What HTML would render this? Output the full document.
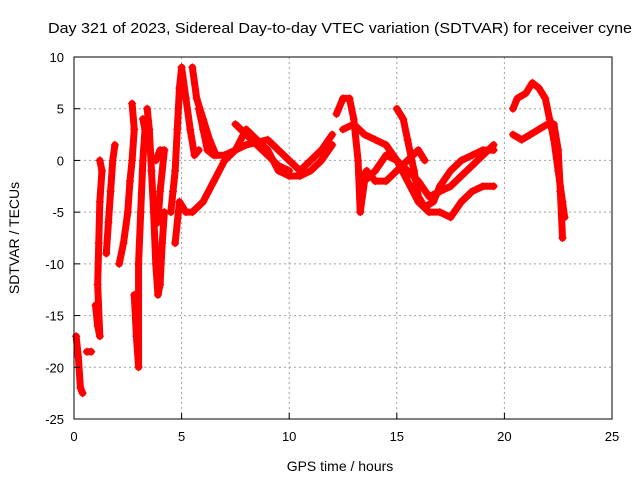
<!DOCTYPE html>
<html><head><meta charset="utf-8"><style>
body{margin:0;background:#fff;}
svg text{font-family:"Liberation Sans",sans-serif;fill:#000;}
</style></head><body>
<svg id="chart" width="640" height="480" xmlns="http://www.w3.org/2000/svg">
<rect width="640" height="480" fill="#fff"/>
<g id="grid"></g><g id="series"></g><g id="axes"></g>
</svg>
<script>
const xTicks=[0,5,10,15,20,25];
const yTicks=[10,5,0,-5,-10,-15,-20,-25];
const trackTimes=[
[0.1,0.2,0.3,0.4],
[0.6,0.8],
[1.0,1.1,1.2,1.1,1.15,1.2,1.3,1.2],
[1.5,1.6,1.7,1.8,1.9],
[2.1,2.3,2.5,2.6,2.7,2.8,2.7],
[2.8,2.9,3.0,3.0,3.1,3.2,3.3,3.2],
[3.4,3.5,3.6,3.7,3.8,3.9,4.0,4.1,4.2],
[3.8,4.0,4.2,4.0,3.9],
[4.5,4.6,4.7,4.8,4.9,5.0,5.2,5.4,5.6,5.8],
[4.7,4.9,5.2,5.5,6.0,6.5,7.0,7.5,8,9,10,10.5,11,11.5,12],
[5.5,5.7,6,6.3,6.6,7,7.5,8,8.5,9,9.5,10,10.5,11,11.5,12],
[7.5,8,8.5,9,9.5,10],
[5.8,6,6.2,6.5],
[12.2,12.5,12.8,13,13.2,13.3,13.5,14,14.5,15,15.5,16,16.5,17,17.5,18,18.5,19,19.5],
[12.5,13,13.5,14,14.5,15,15.5,16,16.5,17,17.5,18,18.5,19,19.5],
[15,15.3,15.5,15.8,16,16.3,16.7,17,17.5,18,18.5,19,19.5],
[13.3,13.6,14,14.5,15,15.5,16,16.3],
[20.4,20.6,21,21.3,21.6,21.9,22.1,22.3,22.5,22.7,22.8],
[20.4,20.8,21.2,21.6,22,22.3,22.5,22.6,22.7]
];
const trackValues=[
[-17,-19,-22,-22.5],
[-18.5,-18.5],
[-14,-16,-17,-12,-8,-4,-1,0],
[-9,-6,-3,0,1.5],
[-10,-8,-5,-2,0,3,5.5],
[-13,-17,-20,-10,-5,0,3,4],
[5,3,-1,-5,-10,-13,-12,-8,-5],
[0,1,1,-3,-6],
[-5,-3,-1,3,7,9,6,3,0.5,1],
[-8,-4,-5,-5,-4,-2,0,1,1.5,2,0,-1,0,1,2.5],
[9,6,4,2,0.5,0.5,1,3,2,1,-1,-1.5,-1.5,-1,0,1.5],
[3.5,2.5,1.5,0.5,-0.5,-1],
[5,3,1,0.5],
[4.5,6,6,4,0,-5,-2,-1,0.5,0,-2,-4,-5,-5,-5.5,-4,-3,-2.5,-2.5],
[3,3.5,2.5,2,1.5,0,-1,-2,-3.5,-3,-2.5,-1.5,-0.5,0.5,1.5],
[5,4,2,-1,-3.5,-4.5,-4,-2.5,-1,0,0.5,1,1],
[-2,-1,-2,-2,-1,0,1,0],
[5,6,6.5,7.5,7,6,4,2,-1,-4,-5.5],
[2.5,2,2.5,3,3.5,3.5,1,-3,-7.5]
];
const L=74,R=612,T=57,B=419;
const X=v=>L+(v-0)/25*(R-L);
const Y=v=>T+(10-v)/35*(B-T);
const NS="http://www.w3.org/2000/svg";
function mk(tag,attrs,parent){const e=document.createElementNS(NS,tag);for(const k in attrs)e.setAttribute(k,attrs[k]);parent.appendChild(e);return e;}
const grid=document.getElementById('grid'),series=document.getElementById('series'),axes=document.getElementById('axes');
xTicks.forEach(t=>{
 if(t>0&&t<25){const g=mk('line',{x1:X(t),x2:X(t),y1:T,y2:B,stroke:'#a0a0a0','stroke-dasharray':'2,3'},grid);
 
 }
 const tk=mk('line',{x1:X(t),x2:X(t),y1:B,y2:B-6,stroke:'#000'},axes);
 
 
 const tx=mk('text',{x:X(t),y:B+22,'text-anchor':'middle','font-size':'13'},axes);tx.textContent=t;
 
 
});
yTicks.forEach(t=>{
 if(t<10&&t>-25){const g=mk('line',{x1:L,x2:R,y1:Y(t),y2:Y(t),stroke:'#a0a0a0','stroke-dasharray':'2,3'},grid);
 
 }
 const tk=mk('line',{x1:L,x2:L+6,y1:Y(t),y2:Y(t),stroke:'#000'},axes);
 
 
 const tx=mk('text',{x:L-10,y:Y(t)+5,'text-anchor':'end','font-size':'13'},axes);tx.textContent=t;
 
 
});
trackTimes.forEach((ts,i)=>{
 const vs=trackValues[i];
 const pts=ts.map((t,j)=>X(t)+','+Y(vs[j])).join(' ');
 const pl=mk('polyline',{points:pts,fill:'none',stroke:'#ff0000','stroke-width':'7','stroke-linejoin':'round','stroke-linecap':'round'},series);
 
 
 ts.forEach((t,j)=>{
  const x=X(t),y=Y(vs[j]);
  const p=mk('path',{d:`M${x-4},${y}H${x+4}M${x},${y-4}V${y+4}`,stroke:'#ff0000','stroke-width':'1.2'},series);
  
  
 });
});
const fr=mk('rect',{x:L,y:T,width:R-L,height:B-T,fill:'none',stroke:'#000'},axes);


const ti=mk('text',{x:48,y:33,'font-size':'15',textLength:'584',lengthAdjust:'spacingAndGlyphs'},axes);ti.textContent='Day 321 of 2023, Sidereal Day-to-day VTEC variation (SDTVAR) for receiver cyne';


const xl=mk('text',{x:340,y:471,'text-anchor':'middle','font-size':'14'},axes);xl.textContent='GPS time / hours';


const yl=mk('text',{x:0,y:0,'text-anchor':'middle','font-size':'14',transform:`translate(19,238) rotate(-90)`},axes);yl.textContent='SDTVAR / TECUs';


</script>
</body></html>
